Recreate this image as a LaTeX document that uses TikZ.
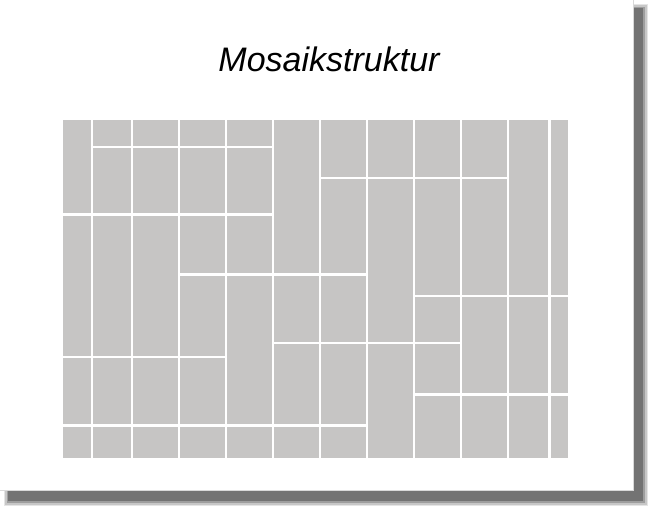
\documentclass[tikz,border=0pt]{standalone}
\usepackage{tikz, xcolor}
\usepackage{fontspec}
\setmainfont{Liberation Sans}
\definecolor{tilegray}{RGB}{198,197,196}

\begin{document}
\begin{tikzpicture}[x=1pt, y=-1pt]
\tikzstyle{joint}=[white, line width=2.4pt]
\tikzstyle{titlestyle}=[font=\itshape\fontsize{34}{40}\selectfont, anchor=base, inner sep=0pt]
\useasboundingbox (0,0) rectangle (650,506);

% shadow of the page
\fill[black!10] (4,4) rectangle (648,506);
\fill[black!22] (5,5) rectangle (646.5,504.5);
\fill[black!38] (6.5,6.5) rectangle (645,502.5);
\fill[black!55] (8,8) rectangle (643,500.5);
\fill[white] (0,0) rectangle (633,490);
\draw[black!15, line width=0.6pt] (633,0) -- (633,490) -- (0,490);

\node[titlestyle] (title) at (329,71.7) {Mosaikstruktur};

% mosaic
\fill[tilegray] (63,120) rectangle (568,458);
\draw[joint] (92,120) -- (92,458);
\draw[joint] (132,120) -- (132,458);
\draw[joint] (179,120) -- (179,458);
\draw[joint] (226,120) -- (226,458);
\draw[joint] (273,120) -- (273,458);
\draw[joint] (320,120) -- (320,458);
\draw[joint] (367,120) -- (367,458);
\draw[joint] (414,120) -- (414,458);
\draw[joint] (461,120) -- (461,458);
\draw[joint] (508,120) -- (508,458);
\draw[joint] (549.5,120) -- (549.5,458);
\draw[joint] (92,147) -- (273,147);
\draw[joint] (320,178) -- (508,178);
\draw[joint] (63,214.5) -- (273,214.5);
\draw[joint] (179,274.5) -- (367,274.5);
\draw[joint] (414,296) -- (568,296);
\draw[joint] (273,343) -- (461,343);
\draw[joint] (63,357) -- (226,357);
\draw[joint] (414,394.5) -- (568,394.5);
\draw[joint] (63,425.5) -- (367,425.5);
\end{tikzpicture}
\end{document}
